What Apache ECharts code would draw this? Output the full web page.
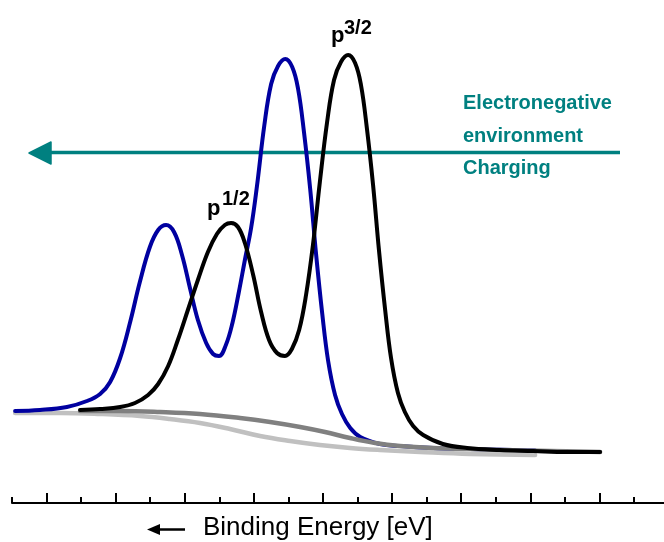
<!DOCTYPE html>
<html>
<head>
<meta charset="utf-8">
<style>
  html, body { margin: 0; padding: 0; background: #fff; }
  #chart { width: 664px; height: 542px; }
</style>
<script src="https://cdn.jsdelivr.net/npm/echarts@6/dist/echarts.min.js"></script>
</head>
<body>
<div id="chart"></div>
<script>
// Energy axis in arbitrary units (tick spacing = 10), intensity 0..100
const majorTicks = [10, 30, 50, 70, 90, 110, 130, 150, 170];
const minorTicks = [0, 20, 40, 60, 80, 100, 120, 140, 160, 180];

// Reference spectrum (blue): p1/2 and p3/2 doublet
const blueSpectrum = [
  [0.9, 18.4], [8.1, 18.6], [15.9, 19.2], [21.7, 20.4], [25.5, 21.8], [28.4, 24.2],
  [31.3, 29.0], [34.2, 36.2], [37.0, 44.2], [39.9, 51.2], [42.3, 54.6], [44.6, 55.6],
  [46.9, 54.2], [49.2, 49.6], [51.5, 43.0], [53.8, 36.6], [56.2, 32.0], [58.2, 29.8],
  [59.9, 29.4], [61.9, 31.6], [63.8, 36.0], [65.6, 42.0], [67.4, 48.6], [69.2, 55.0],
  [70.9, 63.4], [73.0, 75.4], [75.0, 83.8], [77.0, 87.4], [79.1, 88.8], [81.1, 87.2],
  [82.8, 82.8], [84.5, 74.2], [86.3, 62.8], [88.0, 49.8], [89.8, 37.8], [91.5, 28.4],
  [93.5, 21.6], [95.5, 17.8], [97.9, 15.0], [100.8, 13.2], [106.5, 11.8], [112.3, 11.4],
  [121.9, 11.0], [132.6, 10.8], [151.4, 10.5]
];

// Shifted spectrum (black)
const blackSpectrum = [
  [19.7, 18.6], [25.5, 18.8], [31.3, 19.2], [35.6, 20.0], [39.4, 21.6], [42.3, 23.8],
  [45.2, 27.4], [48.0, 32.6], [50.9, 38.6], [53.8, 44.6], [56.7, 50.2], [59.3, 53.8],
  [61.6, 55.6], [63.4, 56.0], [65.4, 55.2], [67.4, 52.0], [69.8, 45.6], [72.1, 38.2],
  [74.4, 32.6], [76.7, 30.0], [79.0, 29.4], [81.0, 30.8], [83.1, 34.6], [85.1, 41.6],
  [87.1, 51.6], [89.1, 64.2], [91.2, 76.2], [93.2, 84.6], [95.2, 88.2], [97.3, 89.6],
  [99.3, 88.0], [101.0, 83.6], [102.7, 75.0], [104.5, 63.6], [106.2, 50.6], [108.0, 38.6],
  [109.7, 29.0], [111.7, 22.0], [113.7, 18.2], [116.1, 15.4], [119.0, 13.6], [124.7, 11.8],
  [131.7, 11.0], [141.2, 10.6], [150.8, 10.4], [160.6, 10.2], [170.2, 10.2]
];

// Background under the black spectrum
const blackBackground = [
  [19.7, 18.4], [31.3, 18.4], [42.8, 18.2], [54.4, 17.8], [66.0, 17.0], [74.7, 16.2],
  [83.4, 15.2], [90.6, 14.2], [97.8, 13.0], [105.1, 12.0], [112.3, 11.4], [121.9, 11.0],
  [132.6, 10.8], [141.2, 10.6], [155.7, 10.4], [170.2, 10.2]
];

// Background under the blue spectrum
const blueBackground = [
  [0.9, 18.0], [13.9, 18.0], [25.5, 17.8], [37.0, 17.4], [45.7, 16.8], [54.4, 16.0],
  [63.1, 14.8], [71.8, 13.4], [80.5, 12.4], [89.1, 11.6], [97.8, 11.0], [106.5, 10.6],
  [118.1, 10.2], [132.6, 9.8], [151.4, 9.6]
];

const teal = '#008080';
const labelFont = '"Liberation Sans", Arial, sans-serif';

const chart = echarts.init(document.getElementById('chart'), null, { renderer: 'canvas' });

function curve(name, data, color, width, z) {
  return {
    name: name,
    type: 'line',
    data: data,
    xAxisIndex: 0,
    yAxisIndex: 0,
    smooth: 0.4,
    symbol: 'none',
    silent: true,
    z: z,
    lineStyle: { color: color, width: width, cap: 'round', join: 'round' }
  };
}

chart.setOption({
  animation: false,
  backgroundColor: '#ffffff',
  grid: { left: 12, right: 0, top: 3, bottom: 39, containLabel: false },
  xAxis: [
    {
      type: 'value', min: 0, max: 188.7, position: 'bottom', offset: 0,
      axisLine: { show: true, onZero: false, lineStyle: { color: '#000', width: 2 } },
      axisTick: { show: true, inside: true, length: 10, customValues: majorTicks,
                  lineStyle: { color: '#000', width: 2 } },
      axisLabel: { show: false },
      splitLine: { show: false }
    },
    {
      type: 'value', min: 0, max: 188.7, position: 'bottom', offset: 0,
      axisLine: { show: false, onZero: false },
      axisTick: { show: true, inside: true, length: 6, customValues: minorTicks,
                  lineStyle: { color: '#000', width: 2 } },
      axisLabel: { show: false },
      splitLine: { show: false }
    }
  ],
  yAxis: { type: 'value', min: 0, max: 100, show: false },
  series: [
    curve('blueBackground', blueBackground, '#c0c0c0', 4.5, 1),
    curve('blue', blueSpectrum, '#0000a0', 4, 2),
    curve('blackBackground', blackBackground, '#808080', 4.5, 3),
    curve('black', blackSpectrum, '#000000', 4, 4)
  ],
  graphic: [
    // shift arrow
    { type: 'line', shape: { x1: 48, y1: 152.5, x2: 620, y2: 152.5 },
      style: { stroke: teal, lineWidth: 3.5 } },
    { type: 'polygon', shape: { points: [[29, 153], [51, 142], [51, 164]] },
      style: { fill: teal, stroke: teal, lineWidth: 1.5, lineJoin: 'round' } },
    { type: 'text', left: 463, top: 93,
      style: { text: 'Electronegative', fill: teal, font: 'bold 20px ' + labelFont } },
    { type: 'text', left: 463, top: 126,
      style: { text: 'environment', fill: teal, font: 'bold 20px ' + labelFont } },
    { type: 'text', left: 463, top: 158,
      style: { text: 'Charging', fill: teal, font: 'bold 20px ' + labelFont } },
    // peak labels
    { type: 'text', x: 207, y: 209,
      style: { text: 'p', fill: '#000', font: 'bold 22px ' + labelFont, verticalAlign: 'middle' } },
    { type: 'text', x: 222, y: 199,
      style: { text: '1/2', fill: '#000', font: 'bold 20px ' + labelFont, verticalAlign: 'middle' } },
    { type: 'text', x: 331, y: 36,
      style: { text: 'p', fill: '#000', font: 'bold 22px ' + labelFont, verticalAlign: 'middle' } },
    { type: 'text', x: 344, y: 28,
      style: { text: '3/2', fill: '#000', font: 'bold 20px ' + labelFont, verticalAlign: 'middle' } },
    // axis title with arrow
    { type: 'line', shape: { x1: 158, y1: 529.5, x2: 185, y2: 529.5 },
      style: { stroke: '#000', lineWidth: 2.5 } },
    { type: 'polygon', shape: { points: [[147, 529.5], [160, 524], [160, 535]] },
      style: { fill: '#000' } },
    { type: 'text', x: 203, y: 528,
      style: { text: 'Binding Energy [eV]', fill: '#000', font: '26px ' + labelFont, verticalAlign: 'middle' } }
  ]
});
</script>
</body>
</html>
